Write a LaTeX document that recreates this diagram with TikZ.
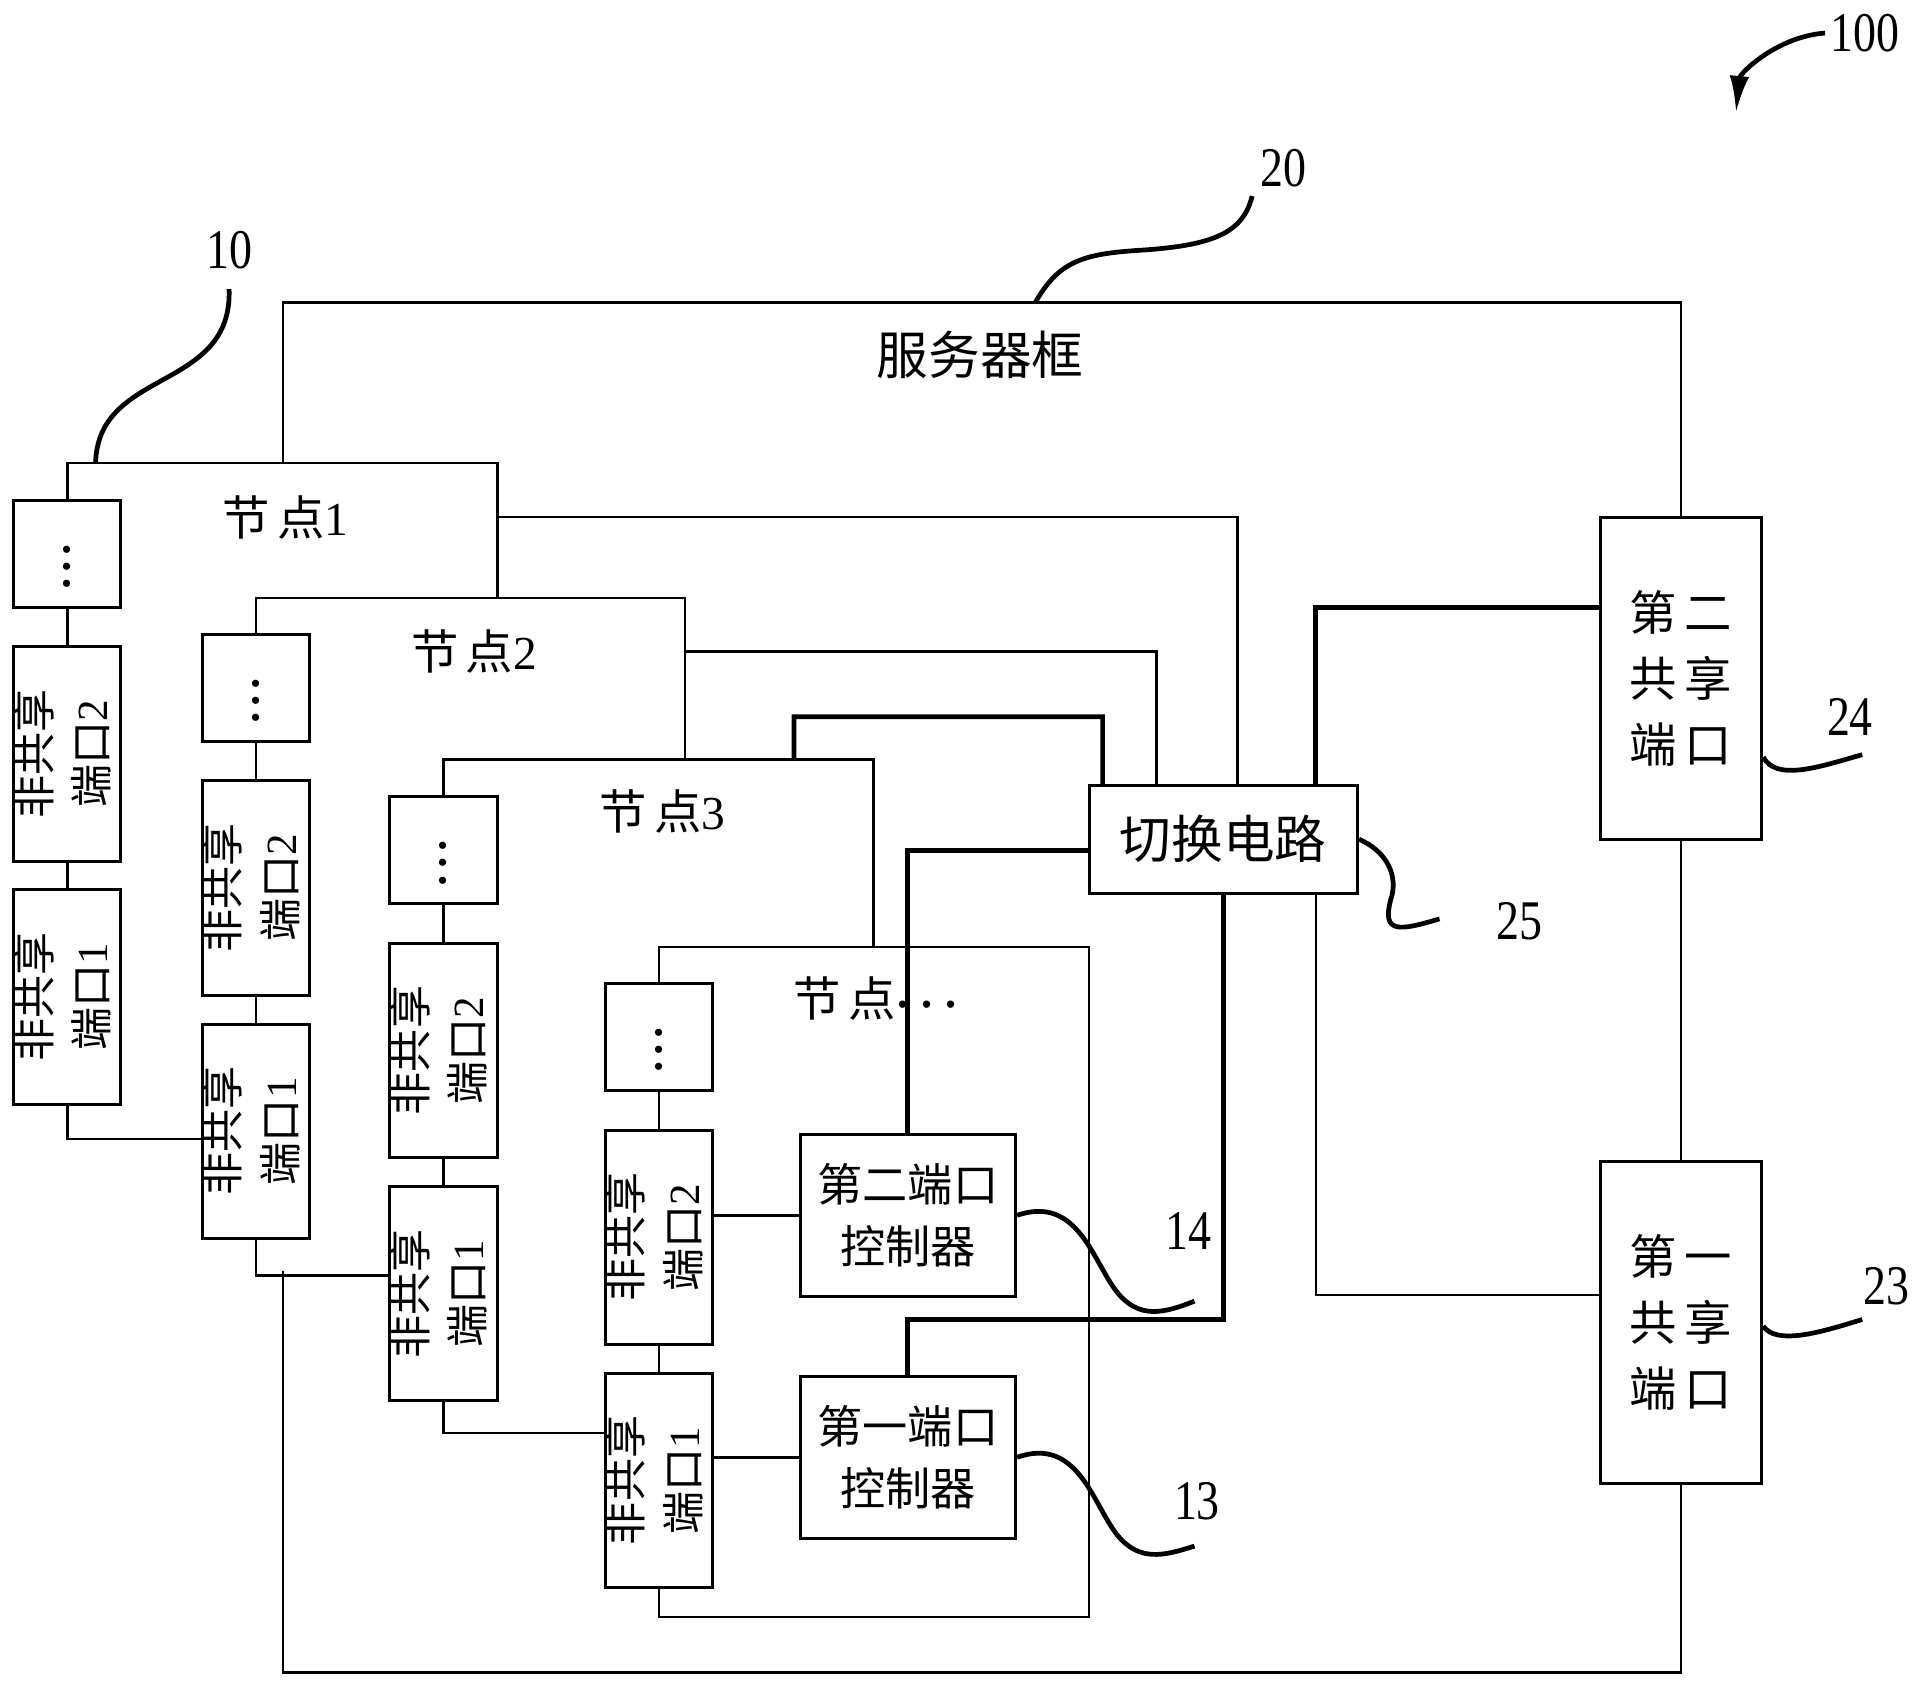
\documentclass[tikz,border=0pt]{standalone}
\usepackage{fontspec}
\setmainfont{Liberation Serif}
\newfontfamily\cjk{Noto Sans CJK SC}
\usepackage{graphicx}
\usetikzlibrary{arrows.meta,positioning,calc}

\newcommand{\zh}[1]{{\cjk #1}}
\newcommand{\vlabel}[2]{\makebox[0pt]{\rotatebox{90}{\begin{tabular}{@{}c@{}}#1\\#2\end{tabular}}}}
\newcommand{\refno}[1]{\scalebox{0.82}[1]{#1}}

\begin{document}
\begin{tikzpicture}[
  x=0.1mm, y=-0.1mm,
  wire/.style={line width=0.6pt},
  thickwire/.style={line width=1.1pt},
  leader/.style={line width=1.1pt},
  dotbox/.style={draw, line width=0.7pt, minimum width=8.75mm, minimum height=8.7mm, inner sep=0pt, font=\boldmath\fontsize{14}{16}\selectfont},
  portbox/.style={draw, line width=0.7pt, minimum width=8.75mm, minimum height=17.5mm, inner sep=0pt, font=\fontsize{10}{13.3}\selectfont},
  ctrlbox/.style={draw, line width=0.7pt, minimum width=17.6mm, minimum height=13.2mm, align=center, font=\cjk\fontsize{10.5}{14.5}\selectfont},
  sharebox/.style={draw, line width=0.7pt, minimum width=13.2mm, minimum height=26.3mm, align=center, font=\cjk\fontsize{11}{15.3}\selectfont},
  switchbox/.style={draw, line width=0.7pt, minimum width=21.9mm, minimum height=8.8mm, font=\cjk\fontsize{12}{14}\selectfont},
  title/.style={font=\cjk\fontsize{12}{14}\selectfont},
  nodelabel/.style={font=\fontsize{11}{13}\selectfont},
  refnum/.style={font=\fontsize{13}{15}\selectfont, inner sep=1pt},
]
\useasboundingbox (0,0) rectangle (1568,1377);

% node 1
\node[dotbox] (n1dots) at (55,452) {$\vdots$};
\node[portbox, below=3mm of n1dots] (n1p2) {\vlabel{\zh{非共享}}{\zh{端口}2}};
\node[portbox, below=2.1mm of n1p2] (n1p1) {\vlabel{\zh{非共享}}{\zh{端口}1}};
\node[nodelabel] (n1lbl) at (233,422) {\zh{节\hspace{0.6mm}点}1};

% node 2
\node[dotbox] (n2dots) at (209,561.5) {$\vdots$};
\node[portbox, below=3mm of n2dots] (n2p2) {\vlabel{\zh{非共享}}{\zh{端口}2}};
\node[portbox, below=2.1mm of n2p2] (n2p1) {\vlabel{\zh{非共享}}{\zh{端口}1}};
\node[nodelabel] (n2lbl) at (387,532) {\zh{节\hspace{0.6mm}点}2};

% node 3
\node[dotbox] (n3dots) at (362,694) {$\vdots$};
\node[portbox, below=3mm of n3dots] (n3p2) {\vlabel{\zh{非共享}}{\zh{端口}2}};
\node[portbox, below=2.1mm of n3p2] (n3p1) {\vlabel{\zh{非共享}}{\zh{端口}1}};
\node[nodelabel] (n3lbl) at (541,662) {\zh{节\hspace{0.6mm}点}3};

% node ...
\node[dotbox] (n4dots) at (538,846.5) {$\vdots$};
\node[portbox, below=3mm of n4dots] (n4p2) {\vlabel{\zh{非共享}}{\zh{端口}2}};
\node[portbox, below=2.1mm of n4p2] (n4p1) {\vlabel{\zh{非共享}}{\zh{端口}1}};
\node[nodelabel] (n4lbl) at (715,815) {\zh{节\hspace{0.6mm}点}{\boldmath$\cdots$}};

\node[ctrlbox] (c2) at (741,992) {第二端口\\控制器};
\node[ctrlbox] (c1) at (741,1189.5) {第一端口\\控制器};

% server frame parts
\node[switchbox] (sw) at (998.5,685) {切换电路};
\node[sharebox] (sp2) at (1372,554) {第\hspace{0.6mm}二\\共\hspace{0.6mm}享\\端\hspace{0.6mm}口};
\node[sharebox] (sp1) at (1372,1079.5) {第\hspace{0.6mm}一\\共\hspace{0.6mm}享\\端\hspace{0.6mm}口};
\node[title] (frame) at (800,290) {服务器框};

% outlines of the nodes
\draw[wire] (n1dots.north) |- (406,378) -- (406,488);
\draw[wire] (n2dots.north) |- (559,488) -- (559,620);
\draw[wire] (n3dots.north) |- (713,620) -- (713,773);
\draw[wire] (n4dots.north) |- (889,773) -- (889,1320) -| (n4p1.south);
\draw[wire] (n1dots) -- (n1p2) -- (n1p1);
\draw[wire] (n2dots) -- (n2p2) -- (n2p1);
\draw[wire] (n3dots) -- (n3p2) -- (n3p1);
\draw[wire] (n4dots) -- (n4p2) -- (n4p1);
\draw[wire] (n1p1.south) |- ([yshift=-9.5mm]n2p1.north west);
\draw[wire] (n2p1.south) |- ([yshift=-7.4mm]n3p1.north west);
\draw[wire] (n3p1.south) |- ([yshift=-5mm]n4p1.north west);
\draw[wire] (c2.west) -- (c2.west -| n4p2.east);
\draw[wire] (c1.west) -- (c1.west -| n4p1.east);

% frame
\draw[wire] (231,378) -- (231,247) -- (1372,247) -- (sp2.north);
\draw[wire] (sp2.south) -- (sp1.north);
\draw[wire] (sp1.south) -- (1372,1365) -- (231,1365) -- (231,1037.5);

% links to the switch
\draw[wire] (406,422) -| ([xshift=1.15mm]sw.north);
\draw[wire] (559,532) -| ([xshift=-5.45mm]sw.north);
\draw[thickwire] (648,620) |- (900,585) -- ([xshift=-9.85mm]sw.north);
\draw[thickwire] (c2.north) |- ([yshift=-0.9mm]sw.west);
\draw[thickwire] (c1.north) -- ++(0,-45) -| (sw.south);
\draw[thickwire] ([yshift=5.8mm]sp2.west) -| ([xshift=7.55mm]sw.north);
\draw[wire] ([yshift=2.25mm]sp1.west) -| ([xshift=7.55mm]sw.south);

% reference numbers
\node[refnum] (r10) at (187,204) {\refno{10}};
\node[refnum] (r20) at (1048,137) {\refno{20}};
\node[refnum] (r100) at (1522,27) {\refno{100}};
\node[refnum] (r14) at (970,1005) {\refno{14}};
\node[refnum] (r13) at (977,1225) {\refno{13}};
\node[refnum] (r25) at (1240,752) {\refno{25}};
\node[refnum] (r24) at (1510,585) {\refno{24}};
\node[refnum] (r23) at (1540,1050) {\refno{23}};

\coordinate (e10) at (187,236);
\coordinate (e20) at (1022,160);
\coordinate (e14) at (975,1062);
\coordinate (e13) at (975,1262);
\coordinate (e25) at (1175,750);
\coordinate (e24) at (1520,616);
\coordinate (e23) at (1520,1077);
\coordinate (a100) at (1417,92);

\draw[leader] (78,378) .. controls (80,300) and (190,320) .. (e10);
\draw[leader] (845,247) .. controls (865,212) and (885,207) .. (935,204) .. controls (990,200) and (1015,190) .. (e20);
\draw[leader] (c2.east) .. controls (880,975) and (892,1030) .. (912,1055) .. controls (930,1077) and (950,1072) .. (e14);
\draw[leader] (c1.east) .. controls (880,1172) and (892,1228) .. (912,1253) .. controls (930,1275) and (950,1270) .. (e13);
\draw[leader] (sw.east) .. controls (1132,695) and (1142,715) .. (1135,735) .. controls (1128,762) and (1142,760) .. (e25);
\draw[leader] ([yshift=-6.4mm]sp2.east) .. controls (1450,638) and (1485,626) .. (e24);
\draw[leader] ([yshift=-0.3mm]sp1.east) .. controls (1450,1098) and (1485,1088) .. (e23);
\draw[thickwire, -{Latex[length=3mm,width=1.6mm]}] (r100.west) .. controls (1450,30) and (1420,60) .. (a100);

\end{tikzpicture}
\end{document}
